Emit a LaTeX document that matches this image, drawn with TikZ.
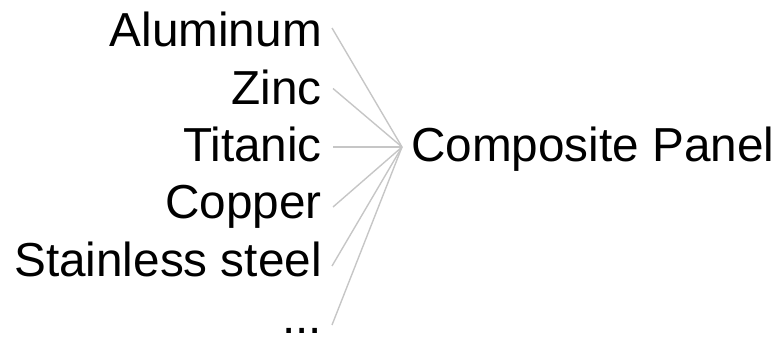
\documentclass[tikz,border=0pt]{standalone}
\usepackage{fontspec}
\setmainfont{Liberation Sans}
\definecolor{linkgray}{HTML}{C6C6C6}
\begin{document}
\begin{tikzpicture}[x=1pt,y=-1pt,
  leaf/.style={anchor=base east,inner sep=0pt,font=\fontsize{47.7}{57}\selectfont},
  rootlabel/.style={anchor=base west,inner sep=0pt,font=\fontsize{47.7}{57}\selectfont},
  link/.style={draw=linkgray,line width=1.4pt}]
\useasboundingbox (0,0) rectangle (776,339);
\node[leaf] (n1) at (322,46.7) {Aluminum};
\node[leaf] (n2) at (322,104.1) {Zinc};
\node[leaf] (n3) at (322,161.5) {Titanic};
\node[leaf] (n4) at (322,218.9) {Copper};
\node[leaf] (n5) at (322,276.3) {Stainless steel};
\node[leaf] (n6) at (322,333.7) {...};
\node[rootlabel] (root) at (411,161.5) {Composite Panel};
\coordinate (hub) at (402,147);
\coordinate (s1) at (332,28);
\coordinate (s2) at (333,88.5);
\coordinate (s3) at (333,147);
\coordinate (s4) at (333,207);
\coordinate (s5) at (332,266);
\coordinate (s6) at (332,325);
\foreach \i in {1,...,6}{\draw[link] (s\i) -- (hub);}
\end{tikzpicture}
\end{document}
